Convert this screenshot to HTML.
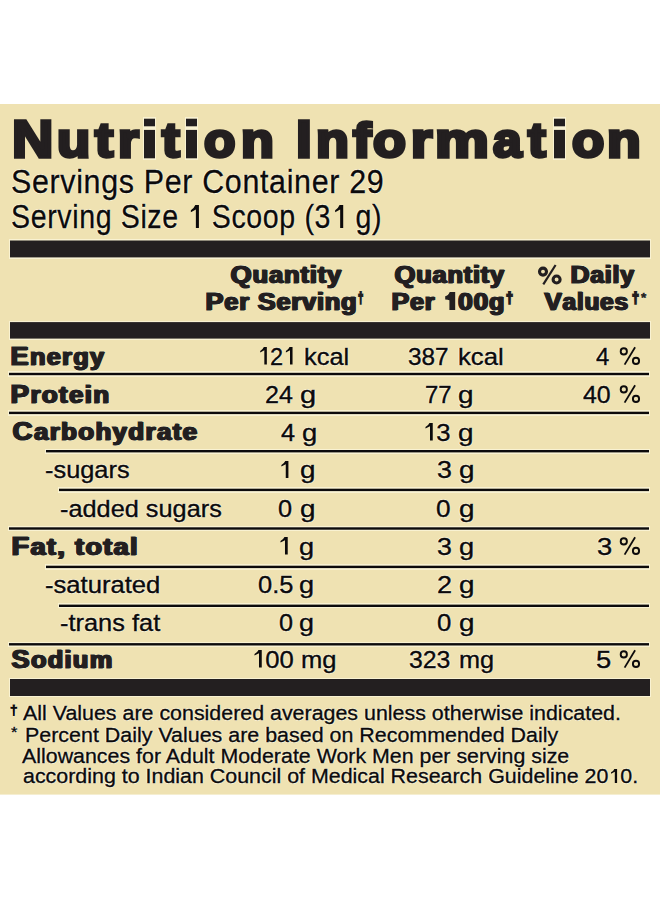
<!DOCTYPE html>
<html><head><meta charset="utf-8"><style>
html,body{margin:0;padding:0}
body{width:660px;height:900px;background:#fff;position:relative;overflow:hidden;font-family:"Liberation Sans",sans-serif;color:#231f20}
.bg{position:absolute;left:0;width:660px;background:#efe2b2}
.t{position:absolute;white-space:nowrap;transform-origin:0 0;margin:0;padding:0}
.t{text-shadow:1px 0 0 rgba(255,253,232,0.7),-1px 0 0 rgba(255,253,232,0.7),0 1px 0 rgba(255,253,232,0.7),0 -1px 0 rgba(255,253,232,0.7)} .hl{position:absolute;background:rgba(255,253,232,0.6)}
.r{position:absolute;background:#231f20}
.ln{position:absolute;background:#0c0a0b}
.p{display:inline-block;width:0;height:0;vertical-align:baseline}
</style></head><body>

<div class="bg" style="left:0.00px;top:104px;width:660.00px;height:690px"></div>
<div class="bg" style="left:0.00px;top:794px;width:660.00px;height:1px;opacity:0.60"></div>
<div class="hl" style="left:9.00px;top:239px;width:642.00px;height:20px"></div>
<div class="hl" style="left:9.00px;top:321px;width:642.00px;height:19px"></div>
<div class="hl" style="left:9.00px;top:678px;width:642.00px;height:19px"></div>
<div class="hl" style="left:143.10px;top:117px;width:13.20px;height:11px"></div>
<div class="hl" style="left:143.10px;top:128px;width:13.20px;height:32px"></div>
<div class="hl" style="left:185.40px;top:117px;width:12.80px;height:11px"></div>
<div class="hl" style="left:185.40px;top:128px;width:12.80px;height:32px"></div>
<div class="hl" style="left:552.80px;top:117px;width:13.10px;height:11px"></div>
<div class="hl" style="left:552.80px;top:128px;width:13.10px;height:32px"></div>
<div class="hl" style="left:8.00px;top:371px;width:642.00px;height:6px"></div>
<div class="hl" style="left:8.00px;top:410px;width:642.00px;height:6px"></div>
<div class="hl" style="left:44.50px;top:449px;width:605.50px;height:5px"></div>
<div class="hl" style="left:58.00px;top:487px;width:592.00px;height:6px"></div>
<div class="hl" style="left:8.00px;top:526px;width:642.00px;height:5px"></div>
<div class="hl" style="left:44.50px;top:564px;width:605.50px;height:6px"></div>
<div class="hl" style="left:58.00px;top:603px;width:592.00px;height:5px"></div>
<div class="hl" style="left:8.00px;top:642px;width:642.00px;height:5px"></div>
<div class="r" style="left:10.00px;top:241px;width:640.00px;height:16px"></div>
<div class="r" style="left:10.00px;top:240px;width:640.00px;height:1px;opacity:0.50"></div>
<div class="r" style="left:10.00px;top:257px;width:640.00px;height:1px;opacity:0.40"></div>
<div class="r" style="left:10.00px;top:323px;width:640.00px;height:15px"></div>
<div class="r" style="left:10.00px;top:322px;width:640.00px;height:1px;opacity:0.90"></div>
<div class="r" style="left:10.00px;top:338px;width:640.00px;height:1px;opacity:0.60"></div>
<div class="r" style="left:10.00px;top:679px;width:640.00px;height:17px"></div>
<div class="r" style="left:144.10px;top:119px;width:11.20px;height:7px"></div>
<div class="r" style="left:144.10px;top:118px;width:11.20px;height:1px;opacity:0.30"></div>
<div class="r" style="left:144.10px;top:126px;width:11.20px;height:1px;opacity:0.30"></div>
<div class="r" style="left:144.10px;top:130px;width:11.20px;height:28px"></div>
<div class="r" style="left:144.10px;top:129px;width:11.20px;height:1px;opacity:0.10"></div>
<div class="r" style="left:144.10px;top:158px;width:11.20px;height:1px;opacity:0.30"></div>
<div class="r" style="left:186.40px;top:119px;width:10.80px;height:7px"></div>
<div class="r" style="left:186.40px;top:118px;width:10.80px;height:1px;opacity:0.30"></div>
<div class="r" style="left:186.40px;top:126px;width:10.80px;height:1px;opacity:0.30"></div>
<div class="r" style="left:186.40px;top:130px;width:10.80px;height:28px"></div>
<div class="r" style="left:186.40px;top:129px;width:10.80px;height:1px;opacity:0.10"></div>
<div class="r" style="left:186.40px;top:158px;width:10.80px;height:1px;opacity:0.30"></div>
<div class="r" style="left:553.80px;top:119px;width:11.10px;height:7px"></div>
<div class="r" style="left:553.80px;top:118px;width:11.10px;height:1px;opacity:0.30"></div>
<div class="r" style="left:553.80px;top:126px;width:11.10px;height:1px;opacity:0.30"></div>
<div class="r" style="left:553.80px;top:130px;width:11.10px;height:28px"></div>
<div class="r" style="left:553.80px;top:129px;width:11.10px;height:1px;opacity:0.10"></div>
<div class="r" style="left:553.80px;top:158px;width:11.10px;height:1px;opacity:0.30"></div>
<div class="ln" style="left:9.00px;top:373px;width:640.00px;height:2px"></div>
<div class="ln" style="left:9.00px;top:372px;width:640.00px;height:1px;opacity:0.20"></div>
<div class="ln" style="left:9.00px;top:375px;width:640.00px;height:1px;opacity:0.20"></div>
<div class="ln" style="left:9.00px;top:412px;width:640.00px;height:2px"></div>
<div class="ln" style="left:9.00px;top:411px;width:640.00px;height:1px;opacity:0.30"></div>
<div class="ln" style="left:9.00px;top:414px;width:640.00px;height:1px;opacity:0.10"></div>
<div class="ln" style="left:45.50px;top:450px;width:603.50px;height:2px"></div>
<div class="ln" style="left:45.50px;top:452px;width:603.50px;height:1px;opacity:0.40"></div>
<div class="ln" style="left:59.00px;top:489px;width:590.00px;height:2px"></div>
<div class="ln" style="left:59.00px;top:488px;width:590.00px;height:1px;opacity:0.30"></div>
<div class="ln" style="left:59.00px;top:491px;width:590.00px;height:1px;opacity:0.10"></div>
<div class="ln" style="left:9.00px;top:528px;width:640.00px;height:1px"></div>
<div class="ln" style="left:9.00px;top:527px;width:640.00px;height:1px;opacity:0.70"></div>
<div class="ln" style="left:9.00px;top:529px;width:640.00px;height:1px;opacity:0.70"></div>
<div class="ln" style="left:45.50px;top:566px;width:603.50px;height:2px"></div>
<div class="ln" style="left:45.50px;top:565px;width:603.50px;height:1px;opacity:0.30"></div>
<div class="ln" style="left:45.50px;top:568px;width:603.50px;height:1px;opacity:0.10"></div>
<div class="ln" style="left:59.00px;top:605px;width:590.00px;height:2px"></div>
<div class="ln" style="left:59.00px;top:604px;width:590.00px;height:1px;opacity:0.40"></div>
<div class="ln" style="left:9.00px;top:644px;width:640.00px;height:1px"></div>
<div class="ln" style="left:9.00px;top:643px;width:640.00px;height:1px;opacity:0.90"></div>
<div class="ln" style="left:9.00px;top:645px;width:640.00px;height:1px;opacity:0.50"></div>
<svg style="position:absolute;left:535px;top:262px" width="30" height="25" viewBox="535 262 30 25"><circle cx="543" cy="271.6" r="3.5" fill="none" stroke="#231f20" stroke-width="3.1"/><circle cx="556.6" cy="279.5" r="3.5" fill="none" stroke="#231f20" stroke-width="3.1"/><line x1="555.6" y1="265" x2="543.3" y2="284.3" stroke="#231f20" stroke-width="2.2"/></svg>
<svg style="position:absolute;left:617.60px;top:345.60px" width="24" height="20" viewBox="-1.5 -1 24 20"><circle cx="4.3" cy="4.4" r="3.1" fill="none" stroke="#0c0a0b" stroke-width="1.9"/><circle cx="16.5" cy="13.9" r="3.1" fill="none" stroke="#0c0a0b" stroke-width="1.9"/><line x1="15.6" y1="0.2" x2="5.1" y2="17.6" stroke="#0c0a0b" stroke-width="1.8"/></svg>
<svg style="position:absolute;left:617.60px;top:383.90px" width="24" height="20" viewBox="-1.5 -1 24 20"><circle cx="4.3" cy="4.4" r="3.1" fill="none" stroke="#0c0a0b" stroke-width="1.9"/><circle cx="16.5" cy="13.9" r="3.1" fill="none" stroke="#0c0a0b" stroke-width="1.9"/><line x1="15.6" y1="0.2" x2="5.1" y2="17.6" stroke="#0c0a0b" stroke-width="1.8"/></svg>
<svg style="position:absolute;left:617.50px;top:536.00px" width="24" height="20" viewBox="-1.5 -1 24 20"><circle cx="4.3" cy="4.4" r="3.1" fill="none" stroke="#0c0a0b" stroke-width="1.9"/><circle cx="16.5" cy="13.9" r="3.1" fill="none" stroke="#0c0a0b" stroke-width="1.9"/><line x1="15.6" y1="0.2" x2="5.1" y2="17.6" stroke="#0c0a0b" stroke-width="1.8"/></svg>
<svg style="position:absolute;left:617.50px;top:648.90px" width="24" height="20" viewBox="-1.5 -1 24 20"><circle cx="4.3" cy="4.4" r="3.1" fill="none" stroke="#0c0a0b" stroke-width="1.9"/><circle cx="16.5" cy="13.9" r="3.1" fill="none" stroke="#0c0a0b" stroke-width="1.9"/><line x1="15.6" y1="0.2" x2="5.1" y2="17.6" stroke="#0c0a0b" stroke-width="1.8"/></svg>
<div class="t" id="h0" style="left:12.24px;top:112.82px;font-size:52.33px;line-height:52.33px;font-weight:bold;transform:scaleX(1.0945);-webkit-text-stroke:3.40px">N</div>
<div class="t" id="h1" style="left:57.30px;top:115.81px;font-size:48.46px;line-height:48.46px;font-weight:bold;transform:scaleX(1.1235);-webkit-text-stroke:3.40px">u</div>
<div class="t" id="h2" style="left:95.25px;top:115.81px;font-size:48.46px;line-height:48.46px;font-weight:bold;transform:scaleX(1.1268);-webkit-text-stroke:3.40px">t</div>
<div class="t" id="h3" style="left:118.06px;top:115.81px;font-size:48.46px;line-height:48.46px;font-weight:bold;transform:scaleX(1.1043);-webkit-text-stroke:3.40px">r</div>
<div class="t" id="h5" style="left:162.13px;top:115.81px;font-size:48.46px;line-height:48.46px;font-weight:bold;transform:scaleX(1.0975);-webkit-text-stroke:3.40px">t</div>
<div class="t" id="h7" style="left:203.79px;top:115.81px;font-size:48.46px;line-height:48.46px;font-weight:bold;transform:scaleX(1.0614);-webkit-text-stroke:3.40px">o</div>
<div class="t" id="h8" style="left:240.67px;top:115.81px;font-size:48.46px;line-height:48.46px;font-weight:bold;transform:scaleX(1.1100);-webkit-text-stroke:3.40px">n</div>
<div class="t" id="h9" style="left:296.14px;top:112.82px;font-size:52.33px;line-height:52.33px;font-weight:bold;transform:scaleX(1.0900);-webkit-text-stroke:3.40px">I</div>
<div class="t" id="h10" style="left:316.33px;top:115.81px;font-size:48.46px;line-height:48.46px;font-weight:bold;transform:scaleX(1.1099);-webkit-text-stroke:3.40px">n</div>
<div class="t" id="h11" style="left:353.26px;top:115.81px;font-size:48.46px;line-height:48.46px;font-weight:bold;transform:scaleX(1.1192);-webkit-text-stroke:3.40px">f</div>
<div class="t" id="h12" style="left:373.43px;top:115.81px;font-size:48.46px;line-height:48.46px;font-weight:bold;transform:scaleX(1.1120);-webkit-text-stroke:3.40px">o</div>
<div class="t" id="h13" style="left:411.36px;top:115.81px;font-size:48.46px;line-height:48.46px;font-weight:bold;transform:scaleX(1.1271);-webkit-text-stroke:3.40px">r</div>
<div class="t" id="h14" style="left:435.10px;top:115.81px;font-size:48.46px;line-height:48.46px;font-weight:bold;transform:scaleX(1.2484);-webkit-text-stroke:3.40px">m</div>
<div class="t" id="h15" style="left:492.76px;top:115.81px;font-size:48.46px;line-height:48.46px;font-weight:bold;transform:scaleX(1.0638);-webkit-text-stroke:3.40px">a</div>
<div class="t" id="h16" style="left:527.93px;top:115.81px;font-size:48.46px;line-height:48.46px;font-weight:bold;transform:scaleX(1.0975);-webkit-text-stroke:3.40px">t</div>
<div class="t" id="h18" style="left:571.55px;top:115.81px;font-size:48.46px;line-height:48.46px;font-weight:bold;transform:scaleX(1.0886);-webkit-text-stroke:3.40px">o</div>
<div class="t" id="h19" style="left:606.52px;top:115.81px;font-size:48.46px;line-height:48.46px;font-weight:bold;transform:scaleX(1.1383);-webkit-text-stroke:3.40px">n</div>
<div class="t" id="s1" style="left:10.59px;top:165.81px;font-size:32.48px;line-height:32.48px;font-weight:normal;transform:scaleX(0.9373);-webkit-text-stroke:0.30px;letter-spacing:0.70px;color:#0c0a0b">Servings Per Container 29</div>
<div class="t" id="s2" style="left:10.67px;top:200.81px;font-size:32.48px;line-height:32.48px;font-weight:normal;transform:scaleX(0.8798);-webkit-text-stroke:0.30px;letter-spacing:0.70px;color:#0c0a0b">Serving Size <svg viewBox="0 0 556 713" style="width:0.556em;height:0.713em;vertical-align:baseline;fill:currentColor"><path d="M419 0L419 713L312 713L312 135L136 225L136 158Q245 105 292 0Z"/></svg> Scoop (3<svg viewBox="0 0 556 713" style="width:0.556em;height:0.713em;vertical-align:baseline;fill:currentColor"><path d="M419 0L419 713L312 713L312 135L136 225L136 158Q245 105 292 0Z"/></svg> g)</div>
<div class="t" id="q2" style="left:229.80px;top:263.10px;font-size:23.30px;line-height:23.30px;font-weight:bold;transform:scaleX(1.1027);-webkit-text-stroke:1.00px;letter-spacing:0.70px;text-shadow:0.50px 0 0 currentColor,1.00px 0 0 currentColor,1.40px 0 0 currentColor,1px 0 0 rgba(255,253,232,0.7),-1px 0 0 rgba(255,253,232,0.7),0 1px 0 rgba(255,253,232,0.7),0 -1px 0 rgba(255,253,232,0.7)"><span style="font-size:1.0607em">Q</span>uantity</div>
<div class="t" id="p2" style="left:204.95px;top:290.11px;font-size:23.30px;line-height:23.30px;font-weight:bold;transform:scaleX(1.0917);-webkit-text-stroke:1.00px;letter-spacing:0.70px;text-shadow:0.50px 0 0 currentColor,1.00px 0 0 currentColor,1.40px 0 0 currentColor,1px 0 0 rgba(255,253,232,0.7),-1px 0 0 rgba(255,253,232,0.7),0 1px 0 rgba(255,253,232,0.7),0 -1px 0 rgba(255,253,232,0.7)"><span style="font-size:1.0607em">P</span>er <span style="font-size:1.0607em">S</span>erving</div>
<div class="t" id="q3" style="left:394.35px;top:263.10px;font-size:23.30px;line-height:23.30px;font-weight:bold;transform:scaleX(1.0910);-webkit-text-stroke:1.00px;letter-spacing:0.70px;text-shadow:0.50px 0 0 currentColor,1.00px 0 0 currentColor,1.40px 0 0 currentColor,1px 0 0 rgba(255,253,232,0.7),-1px 0 0 rgba(255,253,232,0.7),0 1px 0 rgba(255,253,232,0.7),0 -1px 0 rgba(255,253,232,0.7)"><span style="font-size:1.0607em">Q</span>uantity</div>
<div class="t" id="p3" style="left:390.75px;top:290.11px;font-size:23.30px;line-height:23.30px;font-weight:bold;transform:scaleX(1.0791);-webkit-text-stroke:1.00px;letter-spacing:0.70px;text-shadow:0.50px 0 0 currentColor,1.00px 0 0 currentColor,1.40px 0 0 currentColor,1px 0 0 rgba(255,253,232,0.7),-1px 0 0 rgba(255,253,232,0.7),0 1px 0 rgba(255,253,232,0.7),0 -1px 0 rgba(255,253,232,0.7)"><span style="font-size:1.0607em">P</span>er <span style="font-size:1.0607em"><svg viewBox="0 0 556 750" style="width:0.556em;height:0.75em;vertical-align:baseline;fill:currentColor"><path d="M465 0L465 750L248 750L248 330Q190 304 90 304L90 171Q200 160 260 0Z"/></svg></span><span style="font-size:1.0607em">0</span><span style="font-size:1.0607em">0</span>g</div>
<div class="t" id="d4" style="left:569.87px;top:263.10px;font-size:23.30px;line-height:23.30px;font-weight:bold;transform:scaleX(1.0665);-webkit-text-stroke:1.00px;letter-spacing:0.70px;text-shadow:0.50px 0 0 currentColor,1.00px 0 0 currentColor,1.40px 0 0 currentColor,1px 0 0 rgba(255,253,232,0.7),-1px 0 0 rgba(255,253,232,0.7),0 1px 0 rgba(255,253,232,0.7),0 -1px 0 rgba(255,253,232,0.7)"><span style="font-size:1.0607em">D</span>aily</div>
<div class="t" id="v4" style="left:544.30px;top:290.11px;font-size:23.30px;line-height:23.30px;font-weight:bold;transform:scaleX(1.0505);-webkit-text-stroke:1.00px;letter-spacing:0.70px;text-shadow:0.50px 0 0 currentColor,1.00px 0 0 currentColor,1.40px 0 0 currentColor,1px 0 0 rgba(255,253,232,0.7),-1px 0 0 rgba(255,253,232,0.7),0 1px 0 rgba(255,253,232,0.7),0 -1px 0 rgba(255,253,232,0.7)"><span style="font-size:1.0607em">V</span>alues</div>
<div class="t" id="dg2" style="left:357.86px;top:290.82px;font-size:14.50px;line-height:14.50px;font-weight:bold;transform:scaleX(0.6567);-webkit-text-stroke:1.80px">&#8224;</div>
<div class="t" id="dg3" style="left:505.80px;top:290.98px;font-size:14.50px;line-height:14.50px;font-weight:bold;transform:scaleX(0.8662);-webkit-text-stroke:1.80px">&#8224;</div>
<div class="t" id="dg4" style="left:631.73px;top:291.30px;font-size:14.50px;line-height:14.50px;font-weight:bold;transform:scaleX(0.8647);-webkit-text-stroke:1.80px">&#8224;</div>
<div class="t" id="as4" style="left:640.98px;top:290.72px;font-size:13.50px;line-height:13.50px;font-weight:bold;transform:scaleX(1.0025);-webkit-text-stroke:0.50px">*</div>
<div class="t" id="l1" style="left:10.14px;top:344.61px;font-size:23.48px;line-height:23.48px;font-weight:bold;transform:scaleX(1.0803);-webkit-text-stroke:1.00px;letter-spacing:1.20px;text-shadow:0.50px 0 0 currentColor,1.00px 0 0 currentColor,1.40px 0 0 currentColor,1px 0 0 rgba(255,253,232,0.7),-1px 0 0 rgba(255,253,232,0.7),0 1px 0 rgba(255,253,232,0.7),0 -1px 0 rgba(255,253,232,0.7)"><span style="font-size:1.0707em">E</span>nergy</div>
<div class="t" id="l2" style="left:10.26px;top:382.60px;font-size:23.48px;line-height:23.48px;font-weight:bold;transform:scaleX(1.1065);-webkit-text-stroke:1.00px;letter-spacing:1.20px;text-shadow:0.50px 0 0 currentColor,1.00px 0 0 currentColor,1.40px 0 0 currentColor,1px 0 0 rgba(255,253,232,0.7),-1px 0 0 rgba(255,253,232,0.7),0 1px 0 rgba(255,253,232,0.7),0 -1px 0 rgba(255,253,232,0.7)"><span style="font-size:1.0707em">P</span>rotein</div>
<div class="t" id="l3" style="left:11.55px;top:420.31px;font-size:23.48px;line-height:23.48px;font-weight:bold;transform:scaleX(1.1050);-webkit-text-stroke:1.00px;letter-spacing:1.20px;text-shadow:0.50px 0 0 currentColor,1.00px 0 0 currentColor,1.40px 0 0 currentColor,1px 0 0 rgba(255,253,232,0.7),-1px 0 0 rgba(255,253,232,0.7),0 1px 0 rgba(255,253,232,0.7),0 -1px 0 rgba(255,253,232,0.7)"><span style="font-size:1.0707em">C</span>arbohydrate</div>
<div class="t" id="l4" style="left:45.38px;top:458.32px;font-size:24.71px;line-height:24.71px;font-weight:normal;transform:scaleX(1.0271);-webkit-text-stroke:0.40px;color:#0c0a0b">-sugars</div>
<div class="t" id="l5" style="left:60.09px;top:497.01px;font-size:24.71px;line-height:24.71px;font-weight:normal;transform:scaleX(1.0248);-webkit-text-stroke:0.40px;color:#0c0a0b">-added sugars</div>
<div class="t" id="l6" style="left:10.53px;top:534.72px;font-size:23.48px;line-height:23.48px;font-weight:bold;transform:scaleX(1.1493);-webkit-text-stroke:1.00px;letter-spacing:1.20px;text-shadow:0.50px 0 0 currentColor,1.00px 0 0 currentColor,1.40px 0 0 currentColor,1px 0 0 rgba(255,253,232,0.7),-1px 0 0 rgba(255,253,232,0.7),0 1px 0 rgba(255,253,232,0.7),0 -1px 0 rgba(255,253,232,0.7)"><span style="font-size:1.0707em">F</span>at, total</div>
<div class="t" id="l7" style="left:44.81px;top:572.91px;font-size:24.71px;line-height:24.71px;font-weight:normal;transform:scaleX(1.0373);-webkit-text-stroke:0.40px;color:#0c0a0b">-saturated</div>
<div class="t" id="l8" style="left:59.75px;top:611.11px;font-size:24.71px;line-height:24.71px;font-weight:normal;transform:scaleX(1.0278);-webkit-text-stroke:0.40px;color:#0c0a0b">-trans fat</div>
<div class="t" id="l9" style="left:11.30px;top:647.60px;font-size:23.48px;line-height:23.48px;font-weight:bold;transform:scaleX(1.0808);-webkit-text-stroke:1.00px;letter-spacing:1.20px;text-shadow:0.50px 0 0 currentColor,1.00px 0 0 currentColor,1.40px 0 0 currentColor,1px 0 0 rgba(255,253,232,0.7),-1px 0 0 rgba(255,253,232,0.7),0 1px 0 rgba(255,253,232,0.7),0 -1px 0 rgba(255,253,232,0.7)"><span style="font-size:1.0707em">S</span>odium</div>
<div class="t" id="a1n" style="left:256.92px;top:344.61px;font-size:24.71px;line-height:24.71px;font-weight:normal;transform:scaleX(0.9517);-webkit-text-stroke:0.40px;color:#0c0a0b"><svg viewBox="0 0 556 713" style="width:0.556em;height:0.713em;vertical-align:baseline;fill:currentColor"><path d="M419 0L419 713L312 713L312 135L136 225L136 158Q245 105 292 0Z"/></svg>2<svg viewBox="0 0 556 713" style="width:0.556em;height:0.713em;vertical-align:baseline;fill:currentColor"><path d="M419 0L419 713L312 713L312 135L136 225L136 158Q245 105 292 0Z"/></svg></div>
<div class="t" id="a1u" style="left:304.26px;top:344.61px;font-size:24.71px;line-height:24.71px;font-weight:normal;transform:scaleX(1.0275);-webkit-text-stroke:0.40px;color:#0c0a0b">kcal</div>
<div class="t" id="a2n" style="left:264.79px;top:382.91px;font-size:24.71px;line-height:24.71px;font-weight:normal;transform:scaleX(1.0135);-webkit-text-stroke:0.40px;color:#0c0a0b">24</div>
<div class="t" id="a2u" style="left:300.19px;top:382.91px;font-size:24.71px;line-height:24.71px;font-weight:normal;transform:scaleX(1.1751);-webkit-text-stroke:0.40px;color:#0c0a0b">g</div>
<div class="t" id="a3n" style="left:281.39px;top:420.61px;font-size:24.71px;line-height:24.71px;font-weight:normal;transform:scaleX(1.0257);-webkit-text-stroke:0.40px;color:#0c0a0b">4</div>
<div class="t" id="a3u" style="left:301.71px;top:420.61px;font-size:24.71px;line-height:24.71px;font-weight:normal;transform:scaleX(1.1099);-webkit-text-stroke:0.40px;color:#0c0a0b">g</div>
<div class="t" id="a4n" style="left:278.06px;top:458.32px;font-size:24.71px;line-height:24.71px;font-weight:normal;transform:scaleX(1.0064);-webkit-text-stroke:0.40px;color:#0c0a0b"><svg viewBox="0 0 556 713" style="width:0.556em;height:0.713em;vertical-align:baseline;fill:currentColor"><path d="M419 0L419 713L312 713L312 135L136 225L136 158Q245 105 292 0Z"/></svg></div>
<div class="t" id="a4u" style="left:299.50px;top:458.32px;font-size:24.71px;line-height:24.71px;font-weight:normal;transform:scaleX(1.1292);-webkit-text-stroke:0.40px;color:#0c0a0b">g</div>
<div class="t" id="a5n" style="left:277.93px;top:497.01px;font-size:24.71px;line-height:24.71px;font-weight:normal;transform:scaleX(1.0251);-webkit-text-stroke:0.40px;color:#0c0a0b">0</div>
<div class="t" id="a5u" style="left:299.50px;top:497.01px;font-size:24.71px;line-height:24.71px;font-weight:normal;transform:scaleX(1.1292);-webkit-text-stroke:0.40px;color:#0c0a0b">g</div>
<div class="t" id="a6n" style="left:276.83px;top:535.01px;font-size:24.71px;line-height:24.71px;font-weight:normal;transform:scaleX(1.0363);-webkit-text-stroke:0.40px;color:#0c0a0b"><svg viewBox="0 0 556 713" style="width:0.556em;height:0.713em;vertical-align:baseline;fill:currentColor"><path d="M419 0L419 713L312 713L312 135L136 225L136 158Q245 105 292 0Z"/></svg></div>
<div class="t" id="a6u" style="left:299.17px;top:535.01px;font-size:24.71px;line-height:24.71px;font-weight:normal;transform:scaleX(1.0978);-webkit-text-stroke:0.40px;color:#0c0a0b">g</div>
<div class="t" id="a7n" style="left:257.62px;top:572.91px;font-size:24.71px;line-height:24.71px;font-weight:normal;transform:scaleX(1.0312);-webkit-text-stroke:0.40px;color:#0c0a0b">0.5</div>
<div class="t" id="a7u" style="left:298.70px;top:572.91px;font-size:24.71px;line-height:24.71px;font-weight:normal;transform:scaleX(1.0974);-webkit-text-stroke:0.40px;color:#0c0a0b">g</div>
<div class="t" id="a8n" style="left:278.81px;top:611.11px;font-size:24.71px;line-height:24.71px;font-weight:normal;transform:scaleX(1.0220);-webkit-text-stroke:0.40px;color:#0c0a0b">0</div>
<div class="t" id="a8u" style="left:299.22px;top:611.11px;font-size:24.71px;line-height:24.71px;font-weight:normal;transform:scaleX(1.0896);-webkit-text-stroke:0.40px;color:#0c0a0b">g</div>
<div class="t" id="a9n" style="left:251.24px;top:647.91px;font-size:24.71px;line-height:24.71px;font-weight:normal;transform:scaleX(1.0393);-webkit-text-stroke:0.40px;color:#0c0a0b"><svg viewBox="0 0 556 713" style="width:0.556em;height:0.713em;vertical-align:baseline;fill:currentColor"><path d="M419 0L419 713L312 713L312 135L136 225L136 158Q245 105 292 0Z"/></svg>00</div>
<div class="t" id="a9u" style="left:301.20px;top:647.91px;font-size:24.71px;line-height:24.71px;font-weight:normal;transform:scaleX(1.0353);-webkit-text-stroke:0.40px;color:#0c0a0b">mg</div>
<div class="t" id="b1n" style="left:408.35px;top:344.61px;font-size:24.71px;line-height:24.71px;font-weight:normal;transform:scaleX(0.9855);-webkit-text-stroke:0.40px;color:#0c0a0b">387</div>
<div class="t" id="b1u" style="left:457.92px;top:344.61px;font-size:24.71px;line-height:24.71px;font-weight:normal;transform:scaleX(1.0408);-webkit-text-stroke:0.40px;color:#0c0a0b">kcal</div>
<div class="t" id="b2n" style="left:424.53px;top:382.91px;font-size:24.71px;line-height:24.71px;font-weight:normal;transform:scaleX(0.9680);-webkit-text-stroke:0.40px;color:#0c0a0b">77</div>
<div class="t" id="b2u" style="left:457.92px;top:382.91px;font-size:24.71px;line-height:24.71px;font-weight:normal;transform:scaleX(1.1295);-webkit-text-stroke:0.40px;color:#0c0a0b">g</div>
<div class="t" id="b3n" style="left:421.83px;top:420.61px;font-size:24.71px;line-height:24.71px;font-weight:normal;transform:scaleX(1.0381);-webkit-text-stroke:0.40px;color:#0c0a0b"><svg viewBox="0 0 556 713" style="width:0.556em;height:0.713em;vertical-align:baseline;fill:currentColor"><path d="M419 0L419 713L312 713L312 135L136 225L136 158Q245 105 292 0Z"/></svg>3</div>
<div class="t" id="b3u" style="left:457.92px;top:420.61px;font-size:24.71px;line-height:24.71px;font-weight:normal;transform:scaleX(1.1295);-webkit-text-stroke:0.40px;color:#0c0a0b">g</div>
<div class="t" id="b4n" style="left:436.90px;top:458.32px;font-size:24.71px;line-height:24.71px;font-weight:normal;transform:scaleX(1.0856);-webkit-text-stroke:0.40px;color:#0c0a0b">3</div>
<div class="t" id="b4u" style="left:458.70px;top:458.32px;font-size:24.71px;line-height:24.71px;font-weight:normal;transform:scaleX(1.1292);-webkit-text-stroke:0.40px;color:#0c0a0b">g</div>
<div class="t" id="b5n" style="left:436.43px;top:497.01px;font-size:24.71px;line-height:24.71px;font-weight:normal;transform:scaleX(1.0596);-webkit-text-stroke:0.40px;color:#0c0a0b">0</div>
<div class="t" id="b5u" style="left:458.70px;top:497.01px;font-size:24.71px;line-height:24.71px;font-weight:normal;transform:scaleX(1.1292);-webkit-text-stroke:0.40px;color:#0c0a0b">g</div>
<div class="t" id="b6n" style="left:436.90px;top:535.01px;font-size:24.71px;line-height:24.71px;font-weight:normal;transform:scaleX(1.0856);-webkit-text-stroke:0.40px;color:#0c0a0b">3</div>
<div class="t" id="b6u" style="left:459.00px;top:535.01px;font-size:24.71px;line-height:24.71px;font-weight:normal;transform:scaleX(1.1022);-webkit-text-stroke:0.40px;color:#0c0a0b">g</div>
<div class="t" id="b7n" style="left:436.94px;top:572.91px;font-size:24.71px;line-height:24.71px;font-weight:normal;transform:scaleX(1.0934);-webkit-text-stroke:0.40px;color:#0c0a0b">2</div>
<div class="t" id="b7u" style="left:458.70px;top:572.91px;font-size:24.71px;line-height:24.71px;font-weight:normal;transform:scaleX(1.1292);-webkit-text-stroke:0.40px;color:#0c0a0b">g</div>
<div class="t" id="b8n" style="left:436.94px;top:611.11px;font-size:24.71px;line-height:24.71px;font-weight:normal;transform:scaleX(1.0425);-webkit-text-stroke:0.40px;color:#0c0a0b">0</div>
<div class="t" id="b8u" style="left:458.70px;top:611.11px;font-size:24.71px;line-height:24.71px;font-weight:normal;transform:scaleX(1.1292);-webkit-text-stroke:0.40px;color:#0c0a0b">g</div>
<div class="t" id="b9n" style="left:409.16px;top:647.91px;font-size:24.71px;line-height:24.71px;font-weight:normal;transform:scaleX(1.0052);-webkit-text-stroke:0.40px;color:#0c0a0b">323</div>
<div class="t" id="b9u" style="left:459.42px;top:647.91px;font-size:24.71px;line-height:24.71px;font-weight:normal;transform:scaleX(1.0235);-webkit-text-stroke:0.40px;color:#0c0a0b">mg</div>
<div class="t" id="c1n" style="left:596.47px;top:344.61px;font-size:24.71px;line-height:24.71px;font-weight:normal;transform:scaleX(0.9694);-webkit-text-stroke:0.40px;color:#0c0a0b">4</div>
<div class="t" id="c2n" style="left:583.34px;top:382.91px;font-size:24.71px;line-height:24.71px;font-weight:normal;transform:scaleX(1.0092);-webkit-text-stroke:0.40px;color:#0c0a0b">40</div>
<div class="t" id="c6n" style="left:596.58px;top:535.01px;font-size:24.71px;line-height:24.71px;font-weight:normal;transform:scaleX(1.1096);-webkit-text-stroke:0.40px;color:#0c0a0b">3</div>
<div class="t" id="c9n" style="left:596.28px;top:647.91px;font-size:24.71px;line-height:24.71px;font-weight:normal;transform:scaleX(1.1090);-webkit-text-stroke:0.40px;color:#0c0a0b">5</div>
<div class="t" id="fdg" style="left:9.61px;top:702.94px;font-size:13.40px;line-height:13.40px;font-weight:normal;transform:scaleX(1.0135);-webkit-text-stroke:0.90px;color:#0c0a0b">&#8224;</div>
<div class="t" id="fas" style="left:10.85px;top:724.29px;font-size:15.20px;line-height:15.20px;font-weight:normal;transform:scaleX(1.0769);-webkit-text-stroke:0.40px;color:#0c0a0b">*</div>
<div class="t" id="f1" style="left:23.22px;top:703.14px;font-size:20.71px;line-height:20.71px;font-weight:normal;transform:scaleX(1.0336);-webkit-text-stroke:0.35px;color:#0c0a0b">All Values are considered averages unless otherwise indicated.</div>
<div class="t" id="f2" style="left:24.69px;top:724.54px;font-size:20.71px;line-height:20.71px;font-weight:normal;transform:scaleX(1.0350);-webkit-text-stroke:0.35px;color:#0c0a0b">Percent Daily Values are based on Recommended Daily</div>
<div class="t" id="f3" style="left:21.78px;top:746.14px;font-size:20.71px;line-height:20.71px;font-weight:normal;transform:scaleX(1.0324);-webkit-text-stroke:0.35px;color:#0c0a0b">Allowances for Adult Moderate Work Men per serving size</div>
<div class="t" id="f4" style="left:23.13px;top:766.33px;font-size:20.71px;line-height:20.71px;font-weight:normal;transform:scaleX(1.0338);-webkit-text-stroke:0.35px;color:#0c0a0b">according to Indian Council of Medical Research Guideline 20<svg viewBox="0 0 556 713" style="width:0.556em;height:0.713em;vertical-align:baseline;fill:currentColor"><path d="M419 0L419 713L312 713L312 135L136 225L136 158Q245 105 292 0Z"/></svg>0.</div>
</body></html>
